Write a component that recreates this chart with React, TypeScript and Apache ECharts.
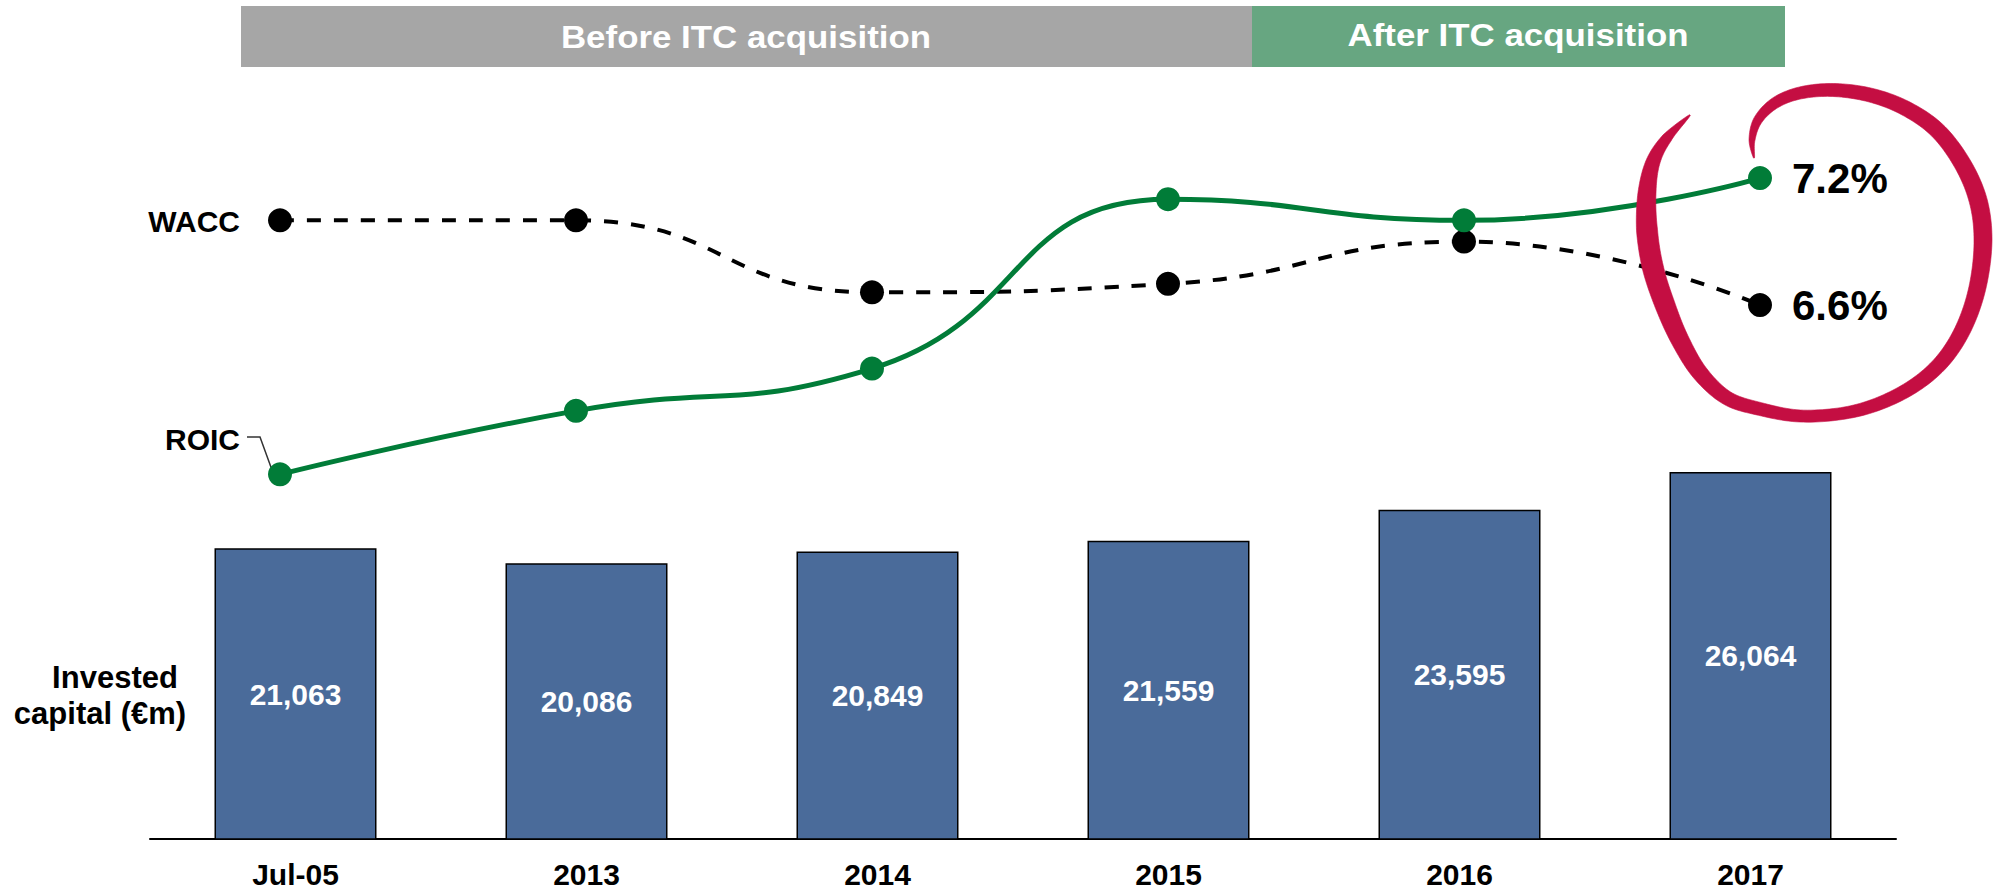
import React, { useEffect, useRef } from "react";
import * as echarts from "echarts";

// ---- Data ----
const categories = ["Jul-05", "2013", "2014", "2015", "2016", "2017"];
const investedCapital = [21063, 20086, 20849, 21559, 23595, 26064];
const roic = [5.8, 6.1, 6.3, 7.1, 7.0, 7.2];
const wacc = [7.0, 7.0, 6.66, 6.7, 6.9, 6.6];
const periodLabels = ["Before ITC acquisition", "After ITC acquisition"];
const seriesNames = ["WACC", "ROIC"];
const capitalLabel = ["Invested", "capital (€m)"];

// ---- Styles ----
const FONT = "'Liberation Sans', Arial, sans-serif";
const BAR_COLOR = "#4A6B9A";
const GREEN = "#017C38";
const RED = "#C40E42";

// Hand-drawn circle annotation centreline: x, y, stroke width
const swirl: [number, number, number][] = [
  [1754, 158, 1],
  [1752, 140, 6],
  [1758, 120, 9],
  [1775, 103, 11],
  [1800, 93, 12],
  [1833, 90, 13],
  [1870, 95, 14],
  [1905, 108, 15],
  [1937, 130, 16],
  [1962, 163, 17],
  [1978, 200, 18],
  [1983, 240, 18],
  [1978, 285, 17],
  [1965, 325, 16],
  [1945, 358, 15],
  [1918, 383, 14],
  [1883, 402, 13],
  [1845, 413, 12],
  [1800, 416, 12],
  [1760, 409, 13],
  [1727, 398, 14],
  [1700, 373, 16],
  [1680, 340, 18],
  [1665, 305, 20],
  [1653, 268, 21],
  [1647, 230, 21],
  [1647, 193, 18],
  [1653, 162, 14],
  [1667, 138, 10],
  [1690, 115, 1],
];

function swirlPolygon(pts: [number, number, number][]): number[][] {
  const n = pts.length;
  const samples: [number, number, number][] = [];
  const steps = 12;
  for (let i = 0; i < n - 1; i++) {
    const p0 = pts[Math.max(i - 1, 0)];
    const p1 = pts[i];
    const p2 = pts[i + 1];
    const p3 = pts[Math.min(i + 2, n - 1)];
    for (let s = 0; s < steps; s++) {
      const t = s / steps;
      const t2 = t * t;
      const t3 = t2 * t;
      const f = (a: number, b: number, c: number, d: number) =>
        0.5 * (2 * b + (-a + c) * t + (2 * a - 5 * b + 4 * c - d) * t2 + (-a + 3 * b - 3 * c + d) * t3);
      samples.push([
        f(p0[0], p1[0], p2[0], p3[0]),
        f(p0[1], p1[1], p2[1], p3[1]),
        p1[2] + (p2[2] - p1[2]) * t,
      ]);
    }
  }
  samples.push(pts[n - 1]);
  const left: number[][] = [];
  const right: number[][] = [];
  for (let i = 0; i < samples.length; i++) {
    const a = samples[Math.max(i - 1, 0)];
    const b = samples[Math.min(i + 1, samples.length - 1)];
    let dx = b[0] - a[0];
    let dy = b[1] - a[1];
    const len = Math.hypot(dx, dy) || 1;
    dx /= len;
    dy /= len;
    const nx = -dy;
    const ny = dx;
    const hw = samples[i][2] / 2;
    left.push([samples[i][0] + nx * hw, samples[i][1] + ny * hw]);
    right.push([samples[i][0] - nx * hw, samples[i][1] - ny * hw]);
  }
  return left.concat(right.reverse());
}

export default function App() {
  const ref = useRef<HTMLDivElement>(null);

  useEffect(() => {
    if (!ref.current) return;
    const chart = echarts.init(ref.current, undefined, { renderer: "svg" });
    const last = categories.length - 1;

    const pctLabel = {
      show: true,
      position: "right",
      distance: 20,
      color: "#000",
      fontFamily: FONT,
      fontWeight: "bold",
      fontSize: 42,
      formatter: (p: any) => Number(p.value).toFixed(1) + "%",
    };

    const option: any = {
      animation: false,
      backgroundColor: "#fff",
      grid: [
        { left: 150, top: 412, width: 1746, height: 429 },
        { left: 280, top: 8.7, width: 1480, height: 635 },
      ],
      xAxis: [
        {
          type: "category",
          gridIndex: 0,
          data: categories,
          axisLine: { show: true, lineStyle: { color: "#000", width: 2 } },
          axisTick: { show: false },
          axisLabel: {
            color: "#000",
            fontFamily: FONT,
            fontWeight: "bold",
            fontSize: 30,
            margin: 20,
          },
        },
        {
          type: "category",
          gridIndex: 1,
          data: categories,
          boundaryGap: false,
          show: false,
        },
      ],
      yAxis: [
        { type: "value", gridIndex: 0, min: 2000, max: 30000, show: false },
        { type: "value", gridIndex: 1, min: 5, max: 8, show: false },
      ],
      series: [
        {
          type: "bar",
          xAxisIndex: 0,
          yAxisIndex: 0,
          data: investedCapital,
          barWidth: 162,
          itemStyle: { color: BAR_COLOR, borderColor: "#000", borderWidth: 1.5 },
          label: {
            show: true,
            position: "inside",
            color: "#fff",
            fontFamily: FONT,
            fontWeight: "bold",
            fontSize: 30,
            formatter: (p: any) => Number(p.value).toLocaleString("en-US"),
          },
        },
        {
          name: seriesNames[0],
          type: "line",
          xAxisIndex: 1,
          yAxisIndex: 1,
          smooth: 0.5,
          symbol: "circle",
          symbolSize: 24,
          z: 3,
          itemStyle: { color: "#000" },
          lineStyle: { color: "#000", width: 4, type: [14, 13] },
          data: wacc.map((v, i) => (i === last ? { value: v, label: pctLabel } : v)),
        },
        {
          name: seriesNames[1],
          type: "line",
          xAxisIndex: 1,
          yAxisIndex: 1,
          smooth: 0.5,
          symbol: "circle",
          symbolSize: 24,
          z: 4,
          itemStyle: { color: GREEN },
          lineStyle: { color: GREEN, width: 5 },
          data: roic.map((v, i) => (i === last ? { value: v, label: pctLabel } : v)),
        },
      ],
      graphic: {
        elements: [
          { type: "rect", shape: { x: 241, y: 6, width: 1011, height: 61 }, style: { fill: "#A6A6A6" }, z: 1 },
          { type: "rect", shape: { x: 1252, y: 6, width: 533, height: 61 }, style: { fill: "#67A681" }, z: 1 },
          {
            type: "text",
            x: 746,
            y: 37,
            scaleX: 1.09,
            z: 2,
            style: {
              text: periodLabels[0],
              fill: "#fff",
              font: `bold 32px ${FONT}`,
              align: "center",
              verticalAlign: "middle",
            },
          },
          {
            type: "text",
            x: 1518,
            y: 35,
            scaleX: 1.09,
            z: 2,
            style: {
              text: periodLabels[1],
              fill: "#fff",
              font: `bold 32px ${FONT}`,
              align: "center",
              verticalAlign: "middle",
            },
          },
          {
            type: "text",
            x: 240,
            y: 221,
            style: { text: seriesNames[0], fill: "#000", font: `bold 30px ${FONT}`, align: "right", verticalAlign: "middle" },
          },
          {
            type: "text",
            x: 240,
            y: 439,
            style: { text: seriesNames[1], fill: "#000", font: `bold 30px ${FONT}`, align: "right", verticalAlign: "middle" },
          },
          {
            type: "polyline",
            shape: { points: [[247, 437], [260, 437], [272, 470]] },
            style: { stroke: "#333", lineWidth: 1.5, fill: null },
            z: 1,
          },
          {
            type: "text",
            x: 115,
            y: 677,
            style: { text: capitalLabel[0], fill: "#000", font: `bold 31px ${FONT}`, align: "center", verticalAlign: "middle" },
          },
          {
            type: "text",
            x: 100,
            y: 713,
            style: { text: capitalLabel[1], fill: "#000", font: `bold 31px ${FONT}`, align: "center", verticalAlign: "middle" },
          },
          {
            type: "polygon",
            z: 100,
            shape: { points: swirlPolygon(swirl) },
            style: { fill: RED, stroke: RED, lineWidth: 0.6 },
          },
        ],
      },
    };

    chart.setOption(option);
    return () => chart.dispose();
  }, []);

  return (
    <div
      ref={ref}
      style={{ position: "fixed", left: 0, top: 0, width: 2001, height: 889, background: "#fff" }}
    />
  );
}
